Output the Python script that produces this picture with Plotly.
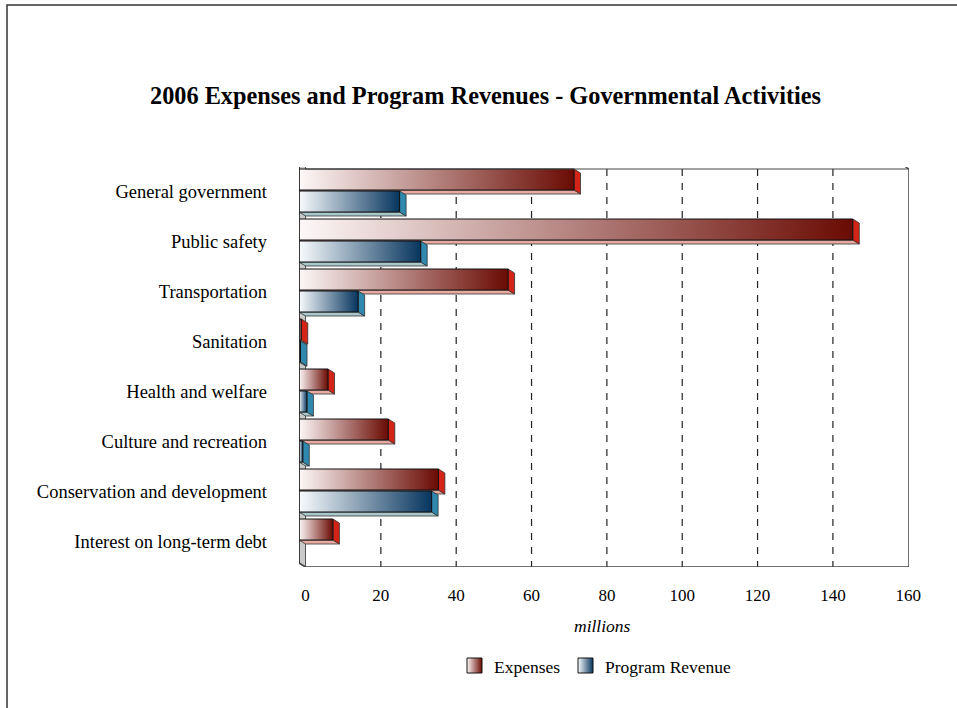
import plotly.graph_objects as go

# ---------------- data ----------------
categories = [
    "General government",
    "Public safety",
    "Transportation",
    "Sanitation",
    "Health and welfare",
    "Culture and recreation",
    "Conservation and development",
    "Interest on long-term debt",
]
expenses = [73.0, 147.0, 55.5, 0.6, 7.7, 23.7, 37.0, 9.0]
program_revenue = [26.7, 32.3, 15.7, 0.4, 2.1, 1.0, 35.2, 0.0]
x_tick_values = [0, 20, 40, 60, 80, 100, 120, 140, 160]
x_tick_labels = ["0", "20", "40", "60", "80", "100", "120", "140", "160"]
title_text = "2006 Expenses and Program Revenues - Governmental Activities"
x_title = "millions"

# ---------------- style / geometry ----------------
W, H = 957, 708
FONT = "Liberation Serif, Times New Roman, serif"
DX = 1.73   # 3D depth in x data units
DY = 0.08   # 3D depth in category units
XMAX = 160.2


def fx(p):
    return p / W


def fy(p):
    return 1 - p / H


series = [
    dict(name="Expenses", values=expenses, y0=0.12, y1=0.54,
         grad=[[0, "#fdf8f8"], [1, "#6a0b03"]], cap="#d42418", bottom="#e8aaa0"),
    dict(name="Program Revenue", values=program_revenue, y0=0.56, y1=0.98,
         grad=[[0, "#f8fbfd"], [1, "#07355e"]], cap="#2f88ae", bottom="#a8c8cc"),
]

fig = go.Figure()

# left wall (grey strip visible between bars)
fig.add_trace(go.Scatter(
    x=[-DX, 0, 0, -DX, -DX],
    y=[-0.5 - DY, -0.5, 7.5, 7.5 - DY, -0.5 - DY],
    fill="toself", fillcolor="#c9c9c9", mode="lines",
    line=dict(color="#555555", width=1), hoverinfo="skip", showlegend=False))

for i, cat in enumerate(categories):
    top = i - 0.5
    for s in series:
        v = s["values"][i]
        if v <= 0:
            continue
        y0 = top + s["y0"]
        y1 = top + s["y1"]
        # bottom face
        fig.add_trace(go.Scatter(
            x=[-DX, v - DX, v, 0, -DX],
            y=[y1 - DY, y1 - DY, y1, y1, y1 - DY],
            fill="toself", fillcolor=s["bottom"], mode="lines",
            line=dict(color="#333333", width=0.8), hoverinfo="skip", showlegend=False))
        # end cap
        fig.add_trace(go.Scatter(
            x=[v - DX, v, v, v - DX, v - DX],
            y=[y0 - DY, y0, y1, y1 - DY, y0 - DY],
            fill="toself", fillcolor=s["cap"], mode="lines",
            line=dict(color="#333333", width=0.8), hoverinfo="skip", showlegend=False))
        # front face with gradient
        fig.add_trace(go.Scatter(
            x=[-DX, v - DX, v - DX, -DX, -DX],
            y=[y0 - DY, y0 - DY, y1 - DY, y1 - DY, y0 - DY],
            fill="toself",
            fillgradient=dict(type="horizontal", colorscale=s["grad"]),
            mode="lines", line=dict(color="#111111", width=1),
            name=s["name"], text=[f"{cat}: {v}"] * 5, hoverinfo="text",
            showlegend=False))

# frame lines: floor, right wall, top
fig.add_trace(go.Scatter(
    x=[-DX, 0, XMAX, XMAX],
    y=[7.5 - DY, 7.5, 7.5, -0.5 + 0.04],
    mode="lines", line=dict(color="#444444", width=1.5),
    hoverinfo="skip", showlegend=False))
fig.add_trace(go.Scatter(
    x=[-DX, XMAX - DX, XMAX, 0],
    y=[-0.5 - 0.04, -0.5 - 0.04, -0.5 + 0.04, -0.5 + 0.04],
    mode="lines", line=dict(color="#444444", width=1.2),
    hoverinfo="skip", showlegend=False))
fig.add_trace(go.Scatter(
    x=[-DX, -DX], y=[-0.5 - 0.04, 7.5 - DY],
    mode="lines", line=dict(color="#222222", width=1.5),
    hoverinfo="skip", showlegend=False))

# dashed gridlines
shapes = []
for t in x_tick_values[1:-1]:
    shapes.append(dict(type="line", xref="x", yref="y", x0=t, x1=t,
                       y0=-0.5 + 0.04, y1=7.5, layer="below",
                       line=dict(color="#222222", width=1.2, dash="7px,7px")))
# outer border (left + top)
shapes.append(dict(type="path", xref="paper", yref="paper",
                   path=f"M {fx(7)} 0 L {fx(7)} {fy(5)} L 1 {fy(5)}",
                   line=dict(color="#333333", width=1.5)))

# legend swatches on a small helper axis
for s, x0 in zip(series, [467, 578]):
    fig.add_trace(go.Scatter(
        x=[x0, x0 + 15, x0 + 15, x0, x0], y=[658, 658, 673, 673, 658],
        xaxis="x2", yaxis="y2", fill="toself",
        fillgradient=dict(type="horizontal", colorscale=s["grad"]),
        mode="lines", line=dict(color="#111111", width=1),
        hoverinfo="skip", showlegend=False))

annotations = [
    dict(text=f"<b>{title_text}</b>", x=fx(485), y=fy(95), xref="paper", yref="paper",
         showarrow=False, font=dict(family=FONT, size=24.3, color="black"),
         xanchor="center", yanchor="middle"),
    dict(text=f"<i>{x_title}</i>", x=fx(602), y=fy(626), xref="paper", yref="paper",
         showarrow=False, font=dict(family=FONT, size=17.5, color="black"),
         xanchor="center", yanchor="middle"),
    dict(text=series[0]["name"], x=fx(492), y=fy(667), xref="paper", yref="paper",
         showarrow=False, font=dict(family=FONT, size=17.5, color="black"),
         xanchor="left", yanchor="middle"),
    dict(text=series[1]["name"], x=fx(603), y=fy(667), xref="paper", yref="paper",
         showarrow=False, font=dict(family=FONT, size=17.5, color="black"),
         xanchor="left", yanchor="middle"),
]

fig.update_layout(
    width=W, height=H,
    margin=dict(l=0, r=0, t=0, b=0),
    paper_bgcolor="white", plot_bgcolor="rgba(0,0,0,0)",
    showlegend=False,
    font=dict(family=FONT, size=17, color="black"),
    xaxis=dict(domain=[fx(299), fx(909)], range=[-DX, XMAX],
               tickvals=x_tick_values, ticktext=x_tick_labels,
               showgrid=False, zeroline=False, showline=False, ticks="",
               ticklabelstandoff=16, automargin=False,
               tickfont=dict(family=FONT, size=17, color="black")),
    yaxis=dict(domain=[fy(567), fy(167)], range=[7.5, -0.5],
               tickvals=list(range(len(categories))), ticktext=categories,
               showgrid=False, zeroline=False, showline=False, ticks="",
               ticklabelstandoff=31, automargin=False,
               tickfont=dict(family=FONT, size=18.5, color="black")),
    xaxis2=dict(domain=[fx(460), fx(600)], range=[460, 600], visible=False,
                anchor="y2"),
    yaxis2=dict(domain=[fy(676), fy(655)], range=[676, 655], visible=False,
                anchor="x2"),
    shapes=shapes,
    annotations=annotations,
)

fig.write_html("out.html")
